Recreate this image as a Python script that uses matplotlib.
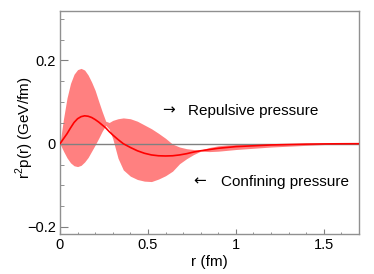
import matplotlib
matplotlib.use('Agg')
import matplotlib.pyplot as plt
from matplotlib.ticker import MultipleLocator

plt.rcParams['font.family'] = ['Liberation Sans', 'DejaVu Sans']
plt.rcParams['mathtext.fontset'] = 'custom'
plt.rcParams['mathtext.rm'] = 'Liberation Sans'

# values
r = [0, 0.02, 0.04, 0.06, 0.08, 0.10, 0.12, 0.14, 0.16, 0.18, 0.20, 0.22, 0.24,
     0.26, 0.28, 0.30, 0.33, 0.36, 0.40, 0.44, 0.48, 0.52, 0.56, 0.60, 0.64, 0.68,
     0.72, 0.76, 0.80, 0.85, 0.90, 0.95, 1.0, 1.1, 1.2, 1.3, 1.4, 1.5, 1.6, 1.7]
center = [0, 0.012, 0.024, 0.038, 0.051, 0.060, 0.065, 0.067, 0.066, 0.063, 0.058,
          0.052, 0.045, 0.038, 0.029, 0.021, 0.010, 0.000, -0.009, -0.017, -0.023,
          -0.027, -0.029, -0.0295, -0.029, -0.027, -0.024, -0.020, -0.017, -0.014,
          -0.011, -0.009, -0.007, -0.005, -0.003, -0.002, -0.001, -0.0005, -0.0002, 0]
upper = [0, 0.06, 0.11, 0.145, 0.167, 0.178, 0.181, 0.177, 0.165, 0.148, 0.128,
         0.102, 0.077, 0.054, 0.051, 0.056, 0.060, 0.062, 0.060, 0.054, 0.045, 0.036,
         0.025, 0.013, -0.001, -0.008, -0.012, -0.014, -0.015, -0.009, -0.005,
         -0.003, -0.002, -0.001, -0.0005, -0.0003, -0.0002, -0.0001, 0, 0]
lower = [0, -0.018, -0.034, -0.046, -0.053, -0.055, -0.052, -0.044, -0.033, -0.018,
         -0.003, 0.013, 0.030, 0.044, 0.035, 0.012, -0.035, -0.063, -0.078, -0.086,
         -0.090, -0.091, -0.085, -0.077, -0.066, -0.048, -0.036, -0.026, -0.018,
         -0.019, -0.018, -0.016, -0.014, -0.011, -0.008, -0.006, -0.004, -0.002,
         -0.001, 0]

fig = plt.figure(figsize=(3.74, 2.74), dpi=100)
ax = fig.add_axes([0.1604, 0.146, 0.7995, 0.814])

ax.fill_between(r, lower, upper, color='#ff8080', linewidth=0, zorder=1)
ax.axhline(0, color='#808080', linewidth=1.0, zorder=2)
ax.plot(r, center, color='#ff0000', linewidth=1.2, zorder=3)

ax.set_xlim(0, 1.7)
ax.set_ylim(-0.217, 0.319)

ax.xaxis.set_major_locator(MultipleLocator(0.5))
ax.xaxis.set_minor_locator(MultipleLocator(0.1))
ax.yaxis.set_major_locator(MultipleLocator(0.2))
ax.yaxis.set_minor_locator(MultipleLocator(0.05))
ax.xaxis.set_major_formatter(plt.FuncFormatter(lambda v, p: '%g' % v))
ax.yaxis.set_major_formatter(plt.FuncFormatter(lambda v, p: ('%g' % v).replace('-', '\u2212')))

ax.tick_params(axis='x', which='major', direction='in', length=3.6, color='#808080',
               labelsize=10.5, pad=3)
ax.tick_params(axis='x', which='minor', direction='in', length=1.8, color='#808080')
ax.tick_params(axis='y', which='major', direction='in', length=5.8, color='#808080',
               labelsize=10.5, pad=3)
ax.tick_params(axis='y', which='minor', direction='in', length=2.9, color='#808080')
for s in ax.spines.values():
    s.set_color('#909090')
    s.set_linewidth(1.0)

ax.set_xlabel('r (fm)', fontsize=11, labelpad=2)
ax.set_ylabel(r'r$^\mathregular{2}$p(r) (GeV/fm)', fontsize=11)
ax.yaxis.set_label_coords(-0.08, 0.478)

ax.text(0.58, 0.070, '\u2192', fontsize=11, family='DejaVu Sans', va='baseline', ha='left')
ax.text(0.726, 0.070, 'Repulsive pressure', fontsize=11, va='baseline', ha='left')
ax.text(0.76, -0.1005, '\u2190', fontsize=11, family='DejaVu Sans', va='baseline', ha='left')
ax.text(0.918, -0.1005, 'Confining pressure', fontsize=11, va='baseline', ha='left')

fig.savefig('out.png', dpi=100)
